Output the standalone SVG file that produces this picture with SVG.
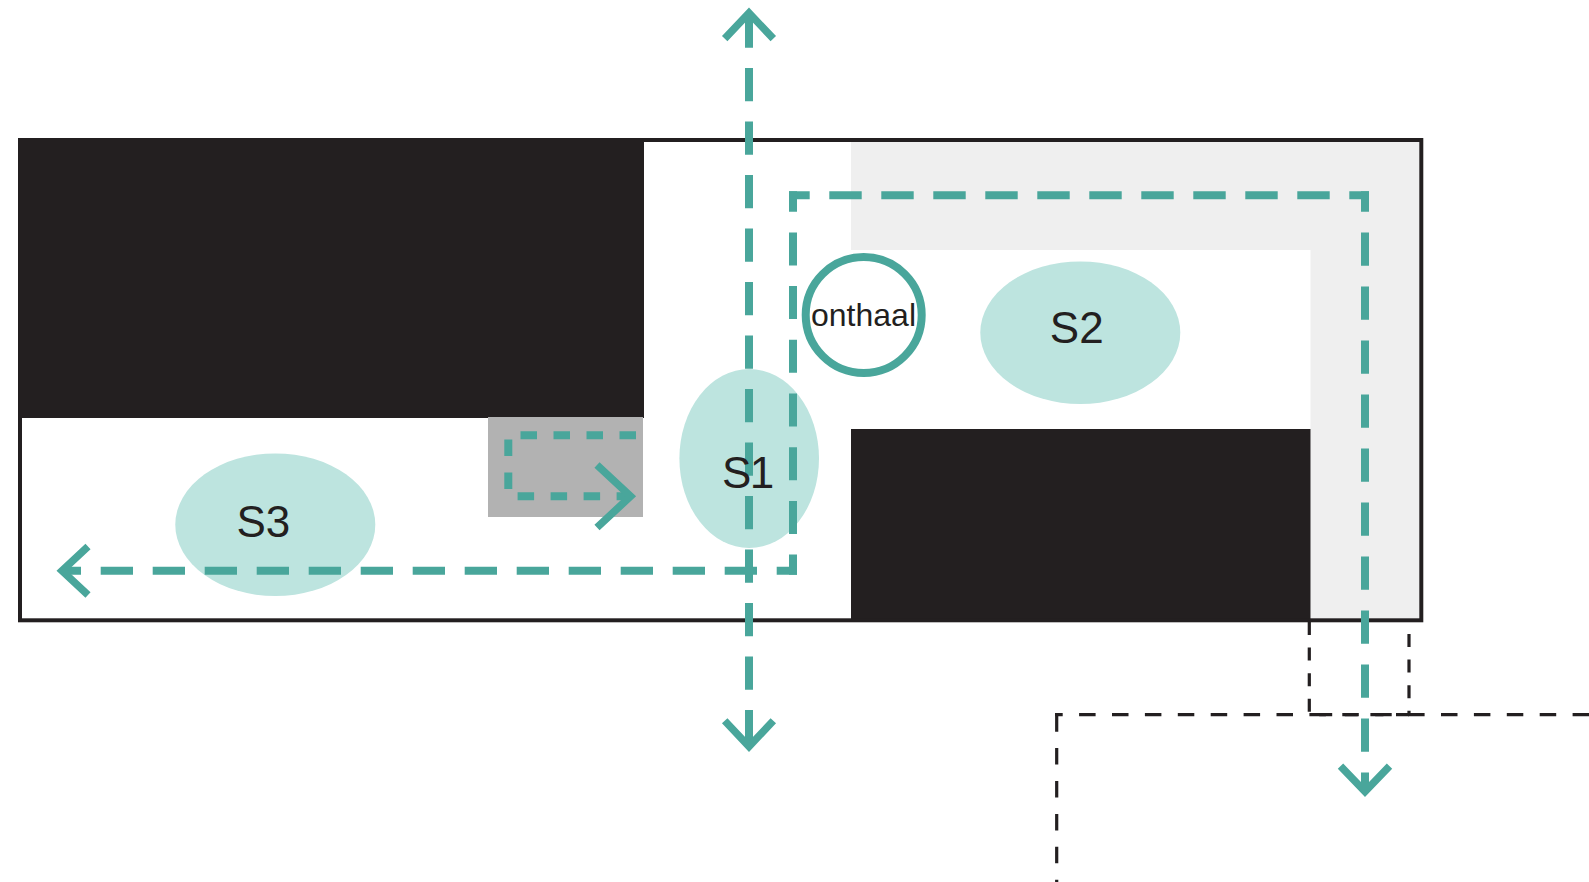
<svg xmlns="http://www.w3.org/2000/svg" width="1589" height="882" viewBox="0 0 1589 882">
<style>
.lbl{font-family:"Liberation Sans",Arial,sans-serif;font-size:44px;fill:#231f20}
.small{font-size:32px;text-anchor:middle}
.zone{fill:#bde4df}
.blk{fill:#231f20}
.g{fill:none;stroke:#49a69b;stroke-width:8}
.head{fill:none;stroke:#49a69b;stroke-width:7.5;stroke-miterlimit:10}
.k{fill:none;stroke:#231f20;stroke-width:3.2}
</style>
<rect width="1589" height="882" fill="#fff"/>
<g id="building">
<path d="M851 142H1419.5V618.5H1310.5V250H851Z" fill="#efefef"/>
<rect class="blk" x="18" y="138" width="626" height="280"/>
<rect class="blk" x="851" y="429" width="459.5" height="193"/>
<rect x="488" y="417" width="155" height="100" fill="#b2b2b2"/>
<rect x="20" y="140" width="1401.3" height="480.3" fill="none" stroke="#231f20" stroke-width="4"/>
</g>
<g id="S3"><ellipse class="zone" cx="275.3" cy="524.7" rx="100" ry="71.3"/><text class="lbl" x="236.4" y="536.7">S3</text></g>
<g id="S2"><ellipse class="zone" cx="1080.3" cy="332.7" rx="100" ry="71.3"/><text class="lbl" x="1049.8" y="342.7">S2</text></g>
<g id="S1"><ellipse class="zone" cx="749.2" cy="458.5" rx="69.8" ry="89.5"/></g>
<g id="onthaal"><circle cx="863.7" cy="315" r="58" fill="#fff" stroke="#49a69b" stroke-width="8"/><text class="lbl small" x="863.5" y="326">onthaal</text></g>
<g id="connectors">
<path class="k" d="M1056.7 714V882" stroke-dasharray="16.5 16.4" stroke-dashoffset="-1.2"/>
<path class="k" d="M1055 714.7H1589" stroke-dasharray="16.5 16.4" stroke-dashoffset="8.8"/>
<path class="k" d="M1309.3 622V712" stroke-dasharray="13 12.6"/>
<path class="k" d="M1409 634V714.7" stroke-dasharray="13 12.6"/>
<path class="k" d="M1409 714.7H1309.3" stroke-dasharray="13 12.6"/>
<path class="g" d="M749 14.5V746" stroke-dasharray="33.2 20.3"/>
<polyline class="head" points="724.7,38.7 749,13 773.3,38.7"/>
<polyline class="head" points="724.7,720.7 749,746.6 773.3,720.7"/>
<path class="g" d="M797 570.7H64" stroke-dasharray="32.3 19.7" stroke-dashoffset="12"/>
<polyline class="head" points="88,546.5 62,570.7 88,595"/>
<path class="g" d="M793 191.2V574.7" stroke-dasharray="33 20.7" stroke-dashoffset="12.5"/>
<path class="g" d="M789 195.2H1369" stroke-dasharray="32.4 19.6" stroke-dashoffset="11.7"/>
<path class="g" d="M1365 191.2V793" stroke-dasharray="33.3 20.7" stroke-dashoffset="12.8"/>
<polyline class="head" points="1340.5,766.2 1365,791.6 1389.5,766.2"/>
<path class="g" d="M636 435.3H508.3V496.3H631" stroke-dasharray="16.5 16.5"/>
<polyline class="head" points="597,465 630.6,496.3 597,527.5"/>
</g>
<g id="S1-label"><text class="lbl" x="722" y="488.3" letter-spacing="-1.5">S1</text></g>
</svg>
